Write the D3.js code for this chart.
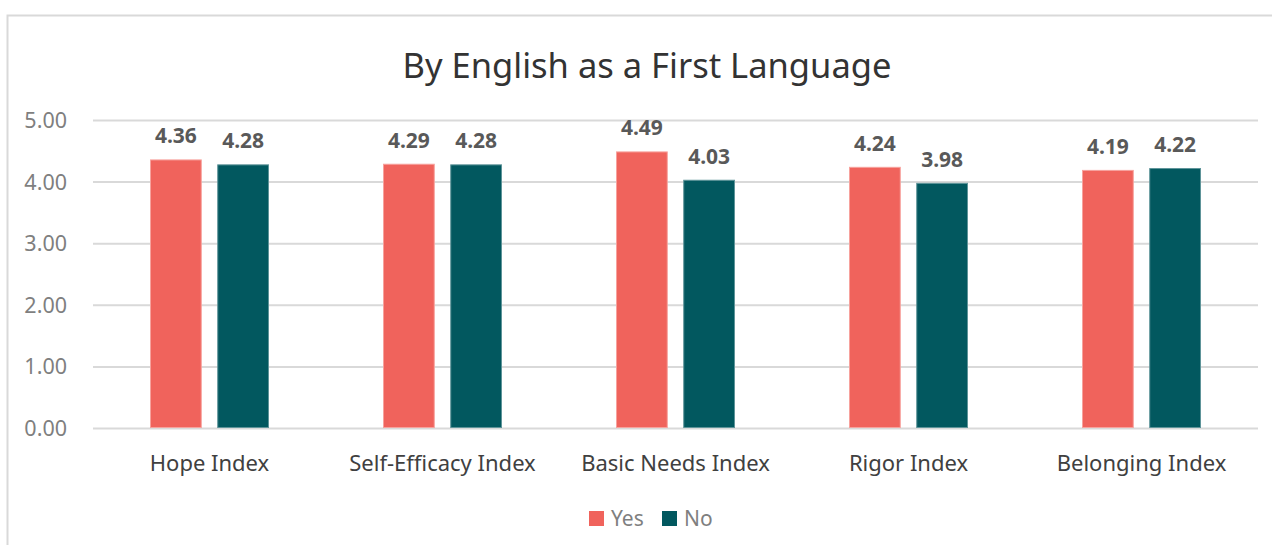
<!DOCTYPE html>
<html>
<head>
<meta charset="utf-8">
<script src="https://cdn.jsdelivr.net/npm/d3@7"></script>
<style>
  body { margin: 0; background: #fff; }
  svg { display: block; font-family: "Noto Sans", "Open Sans", sans-serif; }
</style>
</head>
<body>
<div id="chart"></div>
<script>
// data
var categories = ["Hope Index", "Self-Efficacy Index", "Basic Needs Index", "Rigor Index", "Belonging Index"];
var seriesNames = ["Yes", "No"];
var yesValues = [4.36, 4.29, 4.49, 4.24, 4.19];
var noValues = [4.28, 4.28, 4.03, 3.98, 4.22];
var yTicks = [0, 1, 2, 3, 4, 5];
var colors = ["#F0635C", "#02585F"];
var edgeColors = ["#F7A29D", "#5E9499"];

var width = 1272, height = 545;
var margin = { left: 93, top: 120, right: 14, bottom: 117 };
var innerWidth = width - margin.left - margin.right;
var innerHeight = height - margin.top - margin.bottom;

var svg = d3.select("#chart").append("svg")
  .attr("width", width)
  .attr("height", height);

// outer chart border (only top and left edges show in the picture)
svg.append("path")
  .attr("d", "M7.5," + height + "V15.5H" + width)
  .attr("fill", "none").attr("stroke", "#d9d9d9").attr("stroke-width", 2);

svg.append("text")
  .attr("x", 647).attr("y", 78)
  .attr("text-anchor", "middle")
  .attr("font-size", 34.5)
  .attr("fill", "#333333")
  .text("By English as a First Language");

var g = svg.append("g")
  .attr("transform", "translate(" + margin.left + "," + margin.top + ")");

var x0 = d3.scaleBand().domain(categories).range([0, innerWidth]).paddingInner(0).paddingOuter(0);
var x1 = d3.scaleBand().domain(seriesNames).range([57, x0.bandwidth() - 57]).paddingInner(0.23);
var y = d3.scaleLinear().domain([0, 5]).range([innerHeight, 0]);

// grid + y labels
g.append("g")
  .attr("class", "yGrid")
  .call(d3.axisLeft(y).tickValues(yTicks).tickSize(-innerWidth).tickFormat(d3.format(".2f")))
  .attr("font-size", 21.5)
  .attr("font-family", "Noto Sans, sans-serif")
  .attr("fill", null)
  .call(function (a) {
    a.select(".domain").remove();
    a.selectAll("line").attr("stroke", "#d9d9d9").attr("stroke-width", 2);
    a.selectAll("text")
      .attr("x", -26).attr("y", 7.5).attr("dy", null)
      .attr("text-anchor", "end")
      .attr("fill", "#7f7f7f");
  });

var rows = categories.map(function (c, i) {
  return { cat: c, vals: [{ s: "Yes", v: yesValues[i] }, { s: "No", v: noValues[i] }] };
});

var groups = g.selectAll("g.cat")
  .data(rows)
  .enter().append("g")
  .attr("class", "cat")
  .attr("transform", function (d) { return "translate(" + x0(d.cat) + ",0)"; });

groups.selectAll("rect")
  .data(function (d) { return d.vals; })
  .enter().append("rect")
  .attr("x", function (d) { return x1(d.s) + 0.5; })
  .attr("y", function (d) { return y(d.v) + 0.5; })
  .attr("width", x1.bandwidth() - 1)
  .attr("height", function (d) { return innerHeight - y(d.v) - 1; })
  .attr("fill", function (d, i) { return colors[i]; })
  .attr("stroke", function (d, i) { return edgeColors[i]; })
  .attr("stroke-width", 1);

groups.selectAll("text.val")
  .data(function (d) { return d.vals; })
  .enter().append("text")
  .attr("class", "val")
  .attr("x", function (d) { return x1(d.s) + x1.bandwidth() / 2; })
  .attr("y", function (d) { return y(d.v) - 16; })
  .attr("text-anchor", "middle")
  .attr("fill", "#595959")
  .attr("font-size", 21)
  .attr("font-weight", "bold")
  .text(function (d) { return d3.format(".2f")(d.v); });

// x axis labels
g.append("g")
  .attr("transform", "translate(0," + innerHeight + ")")
  .call(d3.axisBottom(x0).tickSize(0))
  .attr("font-size", 22)
  .attr("font-family", "Noto Sans, sans-serif")
  .attr("fill", null)
  .call(function (a) {
    a.select(".domain").remove();
    a.selectAll("line").remove();
    a.selectAll("text")
      .attr("y", 43).attr("dy", null)
      .attr("text-anchor", "middle")
      .attr("fill", "#404040");
  });

// legend
var legend = svg.append("g").attr("transform", "translate(589,511)");
var legendX = [0, 73];
seriesNames.forEach(function (s, i) {
  var item = legend.append("g").attr("transform", "translate(" + legendX[i] + ",0)");
  item.append("rect").attr("width", 15).attr("height", 15).attr("fill", colors[i]);
  item.append("text")
    .attr("x", 22).attr("y", 15)
    .attr("fill", "#7f7f7f")
    .attr("font-size", 21)
    .text(s);
});
</script>
</body>
</html>
